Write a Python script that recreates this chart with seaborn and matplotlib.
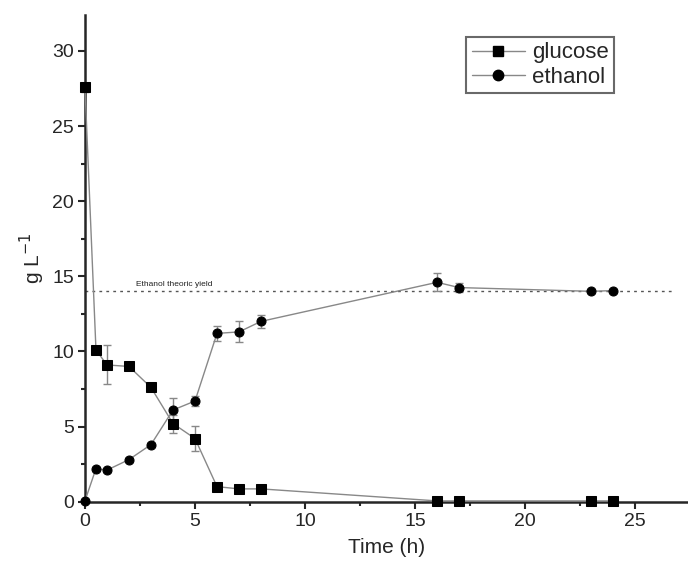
import numpy as np
import pandas as pd
import matplotlib
matplotlib.use("Agg")
import matplotlib.pyplot as plt
import seaborn as sns

# values
time_h = [0, 0.5, 1, 2, 3, 4, 5, 6, 7, 8, 16, 17, 23, 24]
glucose = [27.6, 10.1, 9.1, 9.0, 7.6, 5.2, 4.2, 1.0, 0.85, 0.85, 0.05, 0.05, 0.05, 0.05]
glucose_err = [0.3, 0.15, 1.3, 0.15, 0.15, 0.6, 0.85, 0.15, 0.1, 0.1, 0.05, 0.05, 0.05, 0.05]
ethanol = [0.05, 2.2, 2.1, 2.8, 3.8, 6.1, 6.7, 11.2, 11.3, 12.0, 14.6, 14.25, 14.0, 14.05]
ethanol_err = [0.05, 0.1, 0.1, 0.1, 0.1, 0.8, 0.35, 0.5, 0.7, 0.45, 0.6, 0.3, 0.1, 0.1]
theoric_yield = 14.0

df = pd.DataFrame({
    "time": time_h * 2,
    "conc": glucose + ethanol,
    "err": glucose_err + ethanol_err,
    "species": ["glucose"] * len(time_h) + ["ethanol"] * len(time_h),
})

sns.set_style("ticks")
plt.rcParams["font.family"] = ["Liberation Sans", "DejaVu Sans"]

fig = plt.figure(figsize=(6.88, 5.73), dpi=100)
ax = fig.add_axes([0.1235, 0.1245, 0.8765, 0.8495])

ax.axhline(theoric_yield, xmin=0, xmax=26.7 / 27.4, ls=(0, (2, 3)), color="#555555",
           lw=1.0, zorder=1)
ax.text(2.3, theoric_yield + 0.35, "Ethanol theoric yield", fontsize=6, color="#222222")

for sp, sub in df.groupby("species", sort=False):
    ax.errorbar(sub["time"], sub["conc"], yerr=sub["err"], fmt="none", ecolor="#888888",
                elinewidth=1.0, capsize=3, capthick=1.0, zorder=2, clip_on=False)

sns.lineplot(data=df, x="time", y="conc", hue="species", style="species",
             markers={"glucose": "s", "ethanol": "o"}, dashes=False,
             palette={"glucose": "#888888", "ethanol": "#888888"}, lw=1.0,
             markersize=6.5, markerfacecolor="black", markeredgecolor="black",
             ax=ax, zorder=3, clip_on=False, legend=False)

ax.set_xlim(0, 27.4)
ax.set_ylim(0, 32.4)
ax.set_xticks([0, 5, 10, 15, 20, 25])
ax.set_yticks([0, 5, 10, 15, 20, 25, 30])
ax.set_xticks(np.arange(2.5, 27.4, 5), minor=True)
ax.set_yticks(np.arange(2.5, 32.4, 5), minor=True)
ax.tick_params(which="major", length=5, width=1.5, labelsize=14, pad=3)
ax.tick_params(which="minor", length=3, width=1.5)
for s in ["left", "bottom"]:
    ax.spines[s].set_linewidth(1.8)
sns.despine(ax=ax)

ax.set_xlabel("Time (h)", fontsize=15, labelpad=6)
ax.set_ylabel("g L$^{-1}$", fontsize=15, labelpad=4)

h_g = plt.Line2D([], [], color="#888888", lw=1.0, marker="s", markersize=6.5,
                 markerfacecolor="black", markeredgecolor="black")
h_e = plt.Line2D([], [], color="#888888", lw=1.0, marker="o", markersize=7.5,
                 markerfacecolor="black", markeredgecolor="black")
leg = ax.legend([h_g, h_e], ["glucose", "ethanol"], loc="upper left",
                bbox_to_anchor=(0.632, 0.955), fontsize=16, frameon=True, fancybox=False,
                handlelength=2.4, handletextpad=0.3, borderpad=0.25, labelspacing=0.15,
                borderaxespad=0)
leg.get_frame().set_edgecolor("#444444")
leg.get_frame().set_linewidth(1.5)

fig.savefig("out.png", dpi=100, facecolor="white")
